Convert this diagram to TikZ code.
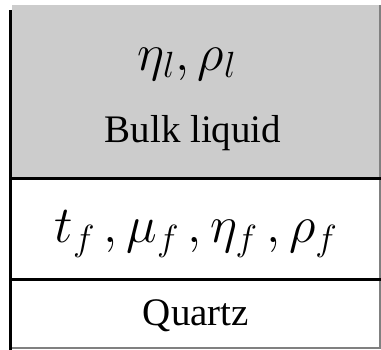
\RequirePackage{fix-cm}
\documentclass[tikz,border=0pt]{standalone}
\usepackage{fontspec}
\setmainfont{Liberation Serif}
\definecolor{liquidgray}{gray}{0.8}
\tikzset{
  layerline/.style={line width=3pt, black},
  edgeline/.style={line width=1.5pt, gray},
  mathlabel/.style={font=\fontsize{52}{56}\selectfont, inner sep=0pt},
  textlabel/.style={font=\fontsize{39}{42}\selectfont, inner sep=0pt}
}
\begin{document}
\begin{tikzpicture}[x=1pt,y=-1pt]
\useasboundingbox (0,0) rectangle (381,350);
\fill[liquidgray] (12,5) rectangle (381,179);
\draw[edgeline] (380,5) -- (380,348);
\draw[edgeline] (12,348) -- (381,348);
\draw[layerline] (12,179) -- (381,179);
\draw[layerline] (12,280) -- (381,280);
\draw[layerline] (10.5,10) -- (10.5,350);
\node[mathlabel] (bulkprops) at (187,64) {$\eta_{l}, \rho_{l}$};
\node[textlabel, anchor=base] (bulk) at (193,143) {Bulk liquid};
\node[mathlabel] (filmprops) at (196,234) {$t_{f}\,, \mu_{f}\,, \eta_{f}\,, \rho_{f}$};
\node[textlabel, anchor=base] (quartz) at (196,326) {Quartz};
\end{tikzpicture}
\end{document}
